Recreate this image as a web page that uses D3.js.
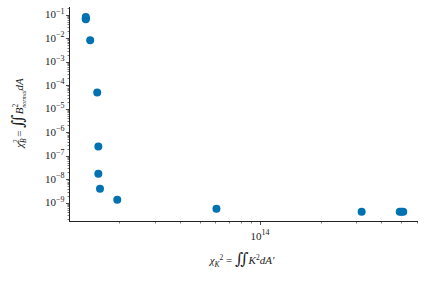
<!DOCTYPE html>
<html>
<head>
<meta charset="utf-8">
<script src="https://cdn.jsdelivr.net/npm/d3@7"></script>
<style>
  body { margin: 0; background: #fff; }
  svg { display: block; }
  text { font-family: "Liberation Serif", "DejaVu Serif", serif; fill: #222; }
</style>
</head>
<body>
<div id="chart"></div>
<script>
// chi_K^2 values (x) and chi_B^2 values (y)
const chiK = [1.36e13, 1.36e13, 1.36e13, 1.43e13, 1.55e13, 1.57e13, 1.57e13, 1.60e13, 1.95e13, 6.07e13, 3.2e14, 4.95e14, 5.05e14, 5.15e14];
const chiB = [0.08, 0.07, 0.064, 0.0081, 4.9e-5, 2.5e-7, 1.73e-8, 3.95e-9, 1.34e-9, 5.5e-10, 4.1e-10, 4.1e-10, 4.1e-10, 4.1e-10];
const xTickVals = [1e14];
const yTickExps = [-9, -8, -7, -6, -5, -4, -3, -2, -1];

const W = 425, H = 281;
const margin = { left: 70, right: 7, top: 7, bottom: 60 };

const svg = d3.select('#chart').append('svg')
	.attr('width', W)
	.attr('height', H);

const x = d3.scaleLog()
	.domain([1.135e13, 6.1e14])
	.range([margin.left, W - margin.right]);

const y = d3.scaleLog()
	.domain([1.67e-10, 0.213])
	.range([H - margin.bottom, margin.top]);

const axisY0 = H - margin.bottom + 0.5;

// x minor ticks
const xMinor = [];
for (let e = 13; e <= 14; e++) {
	for (let m = 2; m <= 9; m++) {
		const v = m * Math.pow(10, e);
		if (v >= x.domain()[0] && v <= x.domain()[1]) xMinor.push(v);
	}
}

const xAxis = svg.append('g').attr('transform', `translate(0,${axisY0})`);
xAxis.append('line')
	.attr('x1', margin.left).attr('x2', W - margin.right)
	.attr('stroke', '#222').attr('stroke-width', 1);
xAxis.selectAll('line.minor').data(xMinor).enter().append('line')
	.attr('class', 'minor')
	.attr('x1', d => Math.round(x(d)) + 0.5).attr('x2', d => Math.round(x(d)) + 0.5)
	.attr('y1', 0).attr('y2', 2)
	.attr('stroke', '#222').attr('stroke-width', 0.6);
xAxis.selectAll('line.major').data(xTickVals).enter().append('line')
	.attr('class', 'major')
	.attr('x1', d => Math.round(x(d)) + 0.5).attr('x2', d => Math.round(x(d)) + 0.5)
	.attr('y1', 0).attr('y2', 3.5)
	.attr('stroke', '#222').attr('stroke-width', 0.8);
const xLab = xAxis.selectAll('text.tick').data(xTickVals).enter().append('text')
	.attr('class', 'tick')
	.attr('x', d => x(d))
	.attr('y', 18)
	.attr('text-anchor', 'middle')
	.style('font-size', '11px');
xLab.append('tspan').text('10');
xLab.append('tspan').attr('dy', -4.5).style('font-size', '8px').text(d => Math.round(Math.log10(d)));

// y ticks
const yMinor = [];
for (let e = -10; e <= -1; e++) {
	for (let m = 2; m <= 9; m++) {
		const v = m * Math.pow(10, e);
		if (v >= y.domain()[0] && v <= y.domain()[1]) yMinor.push(v);
	}
}
const axisX0 = margin.left - 0.5;
const yAxis = svg.append('g').attr('transform', `translate(${axisX0},0)`);
yAxis.append('line')
	.attr('y1', margin.top).attr('y2', H - margin.bottom + 1)
	.attr('stroke', '#222').attr('stroke-width', 1);
yAxis.selectAll('line.minor').data(yMinor).enter().append('line')
	.attr('class', 'minor')
	.attr('y1', d => Math.round(y(d)) + 0.5).attr('y2', d => Math.round(y(d)) + 0.5)
	.attr('x1', 0).attr('x2', -2)
	.attr('stroke', '#222').attr('stroke-width', 0.6);
yAxis.selectAll('line.major').data(yTickExps).enter().append('line')
	.attr('class', 'major')
	.attr('y1', d => Math.round(y(Math.pow(10, d))) + 0.5).attr('y2', d => Math.round(y(Math.pow(10, d))) + 0.5)
	.attr('x1', 0).attr('x2', -3.5)
	.attr('stroke', '#222').attr('stroke-width', 0.8);
const yLab = yAxis.selectAll('text.tick').data(yTickExps).enter().append('text')
	.attr('class', 'tick')
	.attr('x', -5)
	.attr('y', d => y(Math.pow(10, d)) + 3.5)
	.attr('text-anchor', 'end')
	.style('font-size', '11px');
yLab.append('tspan').text('10');
yLab.append('tspan').attr('dy', -4.5).style('font-size', '8px').text(d => '\u2212' + Math.abs(d));

// points
svg.append('g').selectAll('circle').data(chiK).enter().append('circle')
	.attr('cx', d => x(d))
	.attr('cy', (d, i) => y(chiB[i]))
	.attr('r', 4)
	.attr('fill', '#0072B2');

// x label: chi_K^2 = \iint K^2 dA'
const xl = svg.append('text')
	.attr('x', 242)
	.attr('y', 264)
	.attr('text-anchor', 'middle')
	.style('font-size', '11px')
	.style('font-style', 'italic');
xl.append('tspan').text('\u03c7');
xl.append('tspan').attr('dy', 3).style('font-size', '7.5px').text('K');
xl.append('tspan').attr('dy', -7).style('font-size', '7.5px').style('font-style', 'normal').text('2');
xl.append('tspan').attr('dy', 4).style('font-style', 'normal').text(' = ');
xl.append('tspan').style('font-size', '16px').style('font-style', 'normal').text('\u222c');
xl.append('tspan').text('K');
xl.append('tspan').attr('dy', -4).style('font-size', '7.5px').style('font-style', 'normal').text('2');
xl.append('tspan').attr('dy', 4).text('dA\u2032');

// y label: chi_B^2 = \iint B_normal^2 dA
const yl = svg.append('text')
	.attr('transform', 'translate(23,113) rotate(-90)')
	.attr('text-anchor', 'middle')
	.style('font-size', '11px')
	.style('font-style', 'italic');
yl.append('tspan').text('\u03c7');
yl.append('tspan').attr('dy', 3).style('font-size', '7.5px').text('B');
yl.append('tspan').attr('dy', -7).attr('dx', -5).style('font-size', '7.5px').text('2');
yl.append('tspan').attr('dy', 4).style('font-style', 'normal').text(' = ');
yl.append('tspan').style('font-size', '16px').style('font-style', 'normal').text('\u222c');
yl.append('tspan').text('B');
yl.append('tspan').attr('dy', -5).style('font-size', '7.5px').style('font-style', 'normal').text('2');
yl.append('tspan').attr('dy', 8).attr('dx', -4).style('font-size', '6px').text('normal');
yl.append('tspan').attr('dy', -3).text('dA');
</script>
</body>
</html>
